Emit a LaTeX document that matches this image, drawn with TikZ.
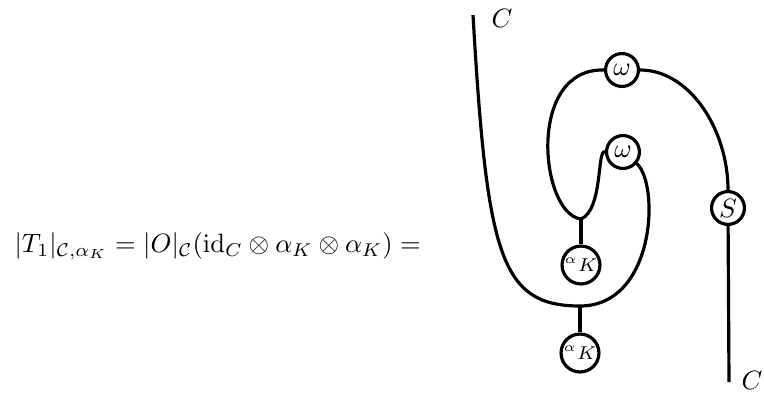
\documentclass[tikz,border=0pt]{standalone}
\usepackage{amsmath}
\usepackage{tikz}
\tikzset{every node/.style={font=\normalsize}}
\tikzset{mor/.style={circle, draw, very thick, fill=white, inner sep=0pt, minimum size=12.4pt},
         bigmor/.style={mor, minimum size=14.3pt}}
\colorlet{strandcol}{black}

\begin{document}
\begin{tikzpicture}[x=0.01326cm, y=-0.01326cm, very thick]
  \useasboundingbox (0,0) rectangle (764,394);

  % Left-hand side.
  \node[anchor=west, inner sep=0pt] (lhs) at (13,246)
    {$|T_1|_{\mathcal{C},\alpha_K} = |O|_{\mathcal{C}}(\mathrm{id}_C \otimes \alpha_K \otimes \alpha_K) =$};

  % Morphism nodes.
  \node[mor] (omegaout) at (622,70) {$\omega$};
  \node[mor] (omegain) at (623,152) {$\omega$};
  \node[mor] (S) at (728,208) {$S$};
  \node[bigmor] (alphamid) at (581,265) {\scriptsize${}^{\alpha}K$};
  \node[bigmor] (alphabot) at (580,353) {\scriptsize${}^{\alpha}K$};

  % Free ends and junctions.
  \coordinate (Ctop) at (473,15);
  \coordinate (Cbot) at (729,382);
  \coordinate (cup) at (580,306);
  \coordinate (junc) at (581,219);

  % Object labels.
  \node (Ctoplab) at (502,18) {$C$};
  \node (Cbotlab) at (752,380) {$C$};

  % Strands.
  \draw[strandcol] (Ctop) .. controls (487,255) and (500,306) .. (cup);
  \draw[strandcol] (cup) .. controls (655,306) and (660,185) .. (omegain.-40);
  \draw[strandcol] (alphabot) -- (cup);
  \draw[strandcol] (alphamid) -- (junc);
  \draw[strandcol] (junc) .. controls (540,214) and (526,68) .. (omegaout.west);
  \draw[strandcol] (junc) .. controls (603,210) and (597,148) .. (omegain.west);
  \draw[strandcol] (omegaout.east) .. controls (690,70) and (728,130) .. (S.north);
  \draw[strandcol] (S) -- (Cbot);

\end{tikzpicture}
\end{document}
